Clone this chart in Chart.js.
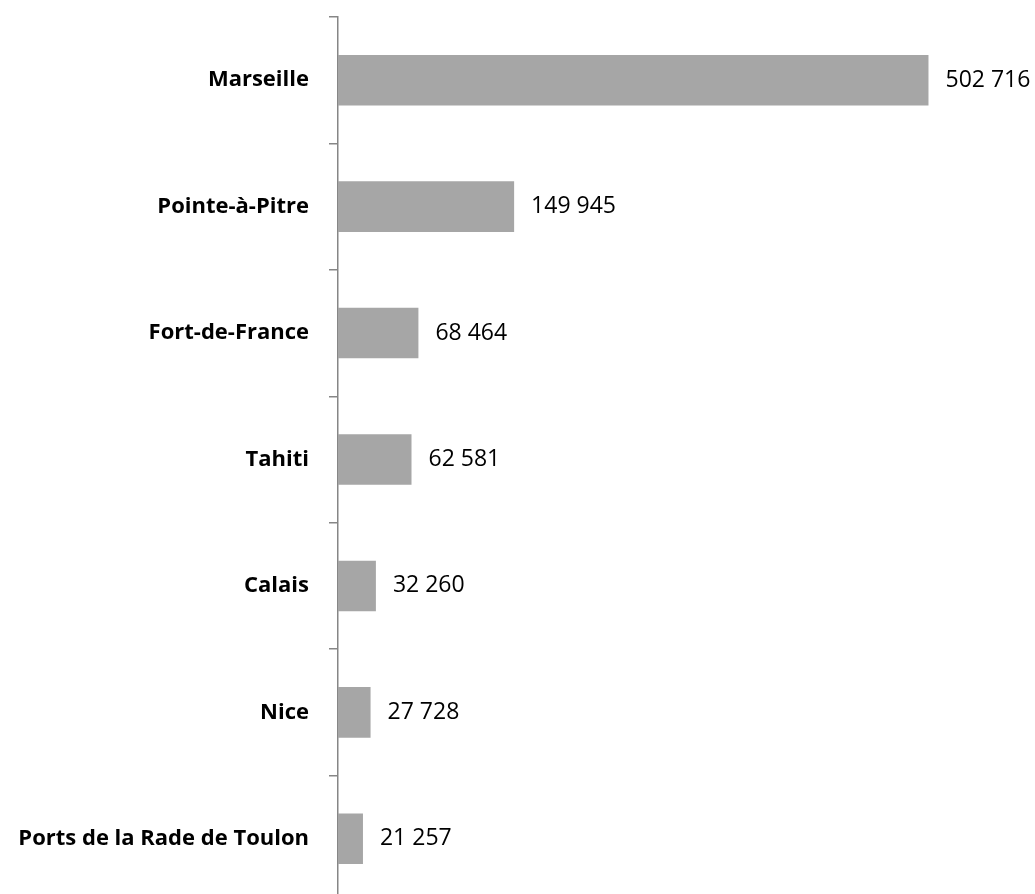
<!DOCTYPE html>
<html lang="fr">
<head>
    <meta charset="UTF-8">
    <title>Ports</title>
    <script src="https://cdn.jsdelivr.net/npm/chart.js"></script>
    <style>
        html, body {
            margin: 0;
            padding: 0;
            background: #fff;
            overflow: hidden;
        }
        #wrap {
            width: 1035px;
            height: 911px;
        }
    </style>
</head>
<body>
<div id="wrap"><canvas id="portsChart"></canvas></div>
<script>
    const ports = ['Marseille', 'Pointe-à-Pitre', 'Fort-de-France', 'Tahiti', 'Calais', 'Nice', 'Ports de la Rade de Toulon'];
    const passengers = [502716, 149945, 68464, 62581, 32260, 27728, 21257];

    function formatFr(v) {
        return String(v).replace(/\B(?=(\d{3})+(?!\d))/g, ' ');
    }

    // value labels drawn just past the end of each bar
    const valueLabels = {
        id: 'valueLabels',
        afterDatasetsDraw(chart) {
            const ctx = chart.ctx;
            const meta = chart.getDatasetMeta(0);
            ctx.save();
            ctx.font = '23px "Open Sans", sans-serif';
            ctx.fillStyle = '#000';
            ctx.textBaseline = 'middle';
            ctx.textAlign = 'left';
            meta.data.forEach(function(bar, i) {
                ctx.fillText(formatFr(passengers[i]), bar.x + 17, bar.y);
            });
            ctx.restore();
        }
    };

    const ctx = document.getElementById('portsChart').getContext('2d');
    new Chart(ctx, {
        type: 'bar',
        data: {
            labels: ports,
            datasets: [{
                data: passengers,
                backgroundColor: '#a6a6a6',
                borderWidth: 0,
                barPercentage: 0.4,
                categoryPercentage: 1.0
            }]
        },
        options: {
            indexAxis: 'y',
            responsive: true,
            maintainAspectRatio: false,
            animation: false,
            layout: {
                padding: { top: 17, bottom: 9, left: 0, right: 4 }
            },
            plugins: {
                legend: { display: false },
                tooltip: { enabled: false }
            },
            scales: {
                x: {
                    display: false,
                    min: 0,
                    max: 590000
                },
                y: {
                    afterFit: function(scale) {
                        scale.width = 338;
                        scale.paddingTop = 0;
                        scale.paddingBottom = 0;
                    },
                    border: { color: '#868686', width: 1.5 },
                    grid: {
                        drawOnChartArea: false,
                        drawTicks: true,
                        tickLength: 9,
                        color: '#868686',
                        lineWidth: 1.5,
                        offset: true
                    },
                    ticks: {
                        color: '#000',
                        padding: 20,
                        font: { family: '"Open Sans", sans-serif', size: 22, weight: 'bold' }
                    }
                }
            }
        },
        plugins: [valueLabels]
    });
</script>
</body>
</html>
